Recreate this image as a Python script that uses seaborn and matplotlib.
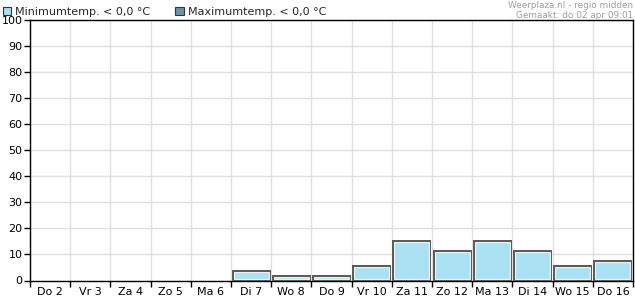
import matplotlib
matplotlib.use("Agg")
import matplotlib.pyplot as plt
import seaborn as sns
import pandas as pd
from matplotlib.patches import Patch
from matplotlib.ticker import MultipleLocator, FixedLocator

days = ["Do 2", "Vr 3", "Za 4", "Zo 5", "Ma 6", "Di 7", "Wo 8", "Do 9",
        "Vr 10", "Za 11", "Zo 12", "Ma 13", "Di 14", "Wo 15", "Do 16"]
min_temp_below0 = [0, 0, 0, 0, 0, 3.9, 2.0, 2.0, 5.9, 15.4, 11.8, 15.7, 11.8, 5.9, 7.8]
max_temp_below0 = [0] * 15
legend_labels = ["Minimumtemp. < 0,0 °C", "Maximumtemp. < 0,0 °C"]

MIN_COLOR = "#aae1f2"
MAX_COLOR = "#6b93ab"
EDGE = "#5c5c5c"

sns.set_style("white")
plt.rcParams["font.family"] = ["DejaVu Sans"]

df = pd.DataFrame({"day": days, "min": min_temp_below0, "max": max_temp_below0})

fig = plt.figure(figsize=(6.35, 3.0), dpi=100)
ax = fig.add_axes([30 / 635, 19.5 / 300, 603 / 635, 260.5 / 300])

# base filled bars
sns.barplot(data=df, x="day", y="min", color=MIN_COLOR, width=0.975,
            saturation=1, linewidth=0, ax=ax, zorder=3)
n_base = len(ax.patches)
# white inner highlight (clipped to bar)
sns.barplot(data=df, x="day", y="min", color=MIN_COLOR, width=0.975,
            saturation=1, ax=ax, zorder=4)
for p in ax.patches[n_base:]:
    p.set_facecolor("none")
    p.set_edgecolor("white")
    p.set_linewidth(3.8)
    p.set_clip_path(p)
n2 = len(ax.patches)
# dark outer border (clipped to bar)
sns.barplot(data=df, x="day", y="min", color=MIN_COLOR, width=0.975,
            saturation=1, ax=ax, zorder=5)
for p in ax.patches[n2:]:
    p.set_facecolor("none")
    p.set_edgecolor(EDGE)
    p.set_linewidth(2.3)
    p.set_clip_path(p)
# maximum series (all zero)
sns.barplot(data=df, x="day", y="max", color=MAX_COLOR, width=0.975,
            saturation=1, linewidth=0, ax=ax, zorder=6)

ax.set_xlim(-0.5, len(days) - 0.5)
ax.set_ylim(0, 100)
ax.set_xlabel("")
ax.set_ylabel("")

ax.yaxis.set_major_locator(MultipleLocator(10))
ax.xaxis.set_minor_locator(FixedLocator([i - 0.5 for i in range(len(days) + 1)]))
ax.tick_params(axis="x", which="major", length=0, labelsize=8, pad=5, colors="black")
ax.tick_params(axis="x", which="minor", length=4, width=1, direction="out", color="black")
ax.tick_params(axis="y", which="major", length=4, width=1, direction="out",
               labelsize=8, pad=1.5, colors="black")
ax.tick_params(left=True, bottom=True, which="both")

ax.grid(False)
ax.yaxis.grid(True, which="major", color="#e0e0e0", linewidth=1, zorder=0)
ax.xaxis.grid(True, which="minor", color="#e0e0e0", linewidth=1, zorder=0)
ax.set_axisbelow(True)

for s in ax.spines.values():
    s.set_visible(True)
    s.set_color("black")
    s.set_linewidth(1)

handles = [Patch(facecolor=MIN_COLOR, edgecolor="#333333", linewidth=0.8),
           Patch(facecolor=MAX_COLOR, edgecolor="#333333", linewidth=0.8)]
fig.legend(handles, legend_labels, loc="upper left", bbox_to_anchor=(-0.003, 0.993),
           ncol=2, frameon=False, fontsize=8, handlelength=0.75, handleheight=0.75,
           handletextpad=0.35, columnspacing=2.3, borderaxespad=0)

fig.text(633 / 635, 1 - 1 / 300, "Weerplaza.nl - regio midden", ha="right", va="top",
         fontsize=6.4, color="#a0a0a0")
fig.text(633 / 635, 1 - 11 / 300, "Gemaakt: do 02 apr 09:01", ha="right", va="top",
         fontsize=6.4, color="#a0a0a0")

fig.savefig("out.png", dpi=100)
